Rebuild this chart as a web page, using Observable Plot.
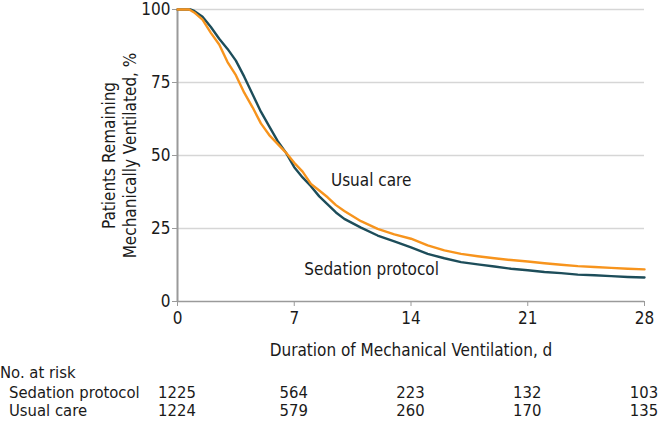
<!DOCTYPE html>
<html>
<head>
<meta charset="utf-8">
<script src="https://cdn.jsdelivr.net/npm/d3@7"></script>
<script src="https://cdn.jsdelivr.net/npm/@observablehq/plot@0.6"></script>
<style>
  body { margin: 0; background: #fff; }
  #wrap { position: relative; width: 660px; }
  .risk { position: relative; height: 60px; width: 660px; font-family: "DejaVu Sans Condensed", "DejaVu Sans", sans-serif; font-size: 16.5px; color: #1a1a1a; }
  .risk span { position: absolute; line-height: 16px; white-space: nowrap; }
</style>
</head>
<body>
<div id="wrap"></div>
<script>
// Kaplan-Meier estimates (day, % remaining ventilated)
const sedationDays = [0, 0.8, 1.0, 1.5, 2.0, 2.5, 3.0, 3.5, 4.0, 4.5, 5.0, 5.5, 6.0, 6.5, 7.0, 7.5, 8.0, 8.5, 9.0, 9.5, 10, 11, 12, 13, 14, 15, 16, 17, 18, 19, 20, 21, 22, 23, 24, 25, 26, 27, 28];
const sedationPct  = [100, 100, 99.5, 97.5, 94, 90, 86.5, 82.5, 77, 71, 65, 60, 55, 51, 46, 42.5, 39.5, 36, 33.3, 30.5, 28.3, 25.3, 22.6, 20.6, 18.5, 16.3, 14.8, 13.5, 12.7, 12.0, 11.2, 10.7, 10.1, 9.7, 9.2, 9.0, 8.7, 8.4, 8.2];
const usualDays = [0, 0.7, 1.0, 1.5, 2.0, 2.5, 3.0, 3.5, 4.0, 4.5, 5.0, 5.5, 6.0, 6.5, 7.0, 7.5, 8.0, 8.5, 9.0, 9.5, 10, 11, 12, 13, 14, 15, 16, 17, 18, 19, 20, 21, 22, 23, 24, 25, 26, 27, 28];
const usualPct  = [100, 100, 99, 96.5, 92, 88, 82, 77.5, 71.5, 66.5, 61, 57, 54, 51, 47.5, 44.5, 40.3, 38, 35.7, 33, 31, 27.5, 24.9, 23, 21.5, 19.2, 17.5, 16.3, 15.5, 14.8, 14.2, 13.7, 13.1, 12.6, 12.1, 11.8, 11.5, 11.2, 11.0];

const groups = ["Sedation protocol", "Usual care"];
const groupColors = ["#1d4d5a", "#f7941d"];
const labelDays = [7.6, 9.2];
const labelPct = [11, 41.4];

const xTicks = [0, 7, 14, 21, 28];
const yTicks = [0, 25, 50, 75, 100];
const gridValues = [25, 50, 75, 100];
const riskSedation = [1225, 564, 223, 132, 103];
const riskUsual = [1224, 579, 260, 170, 135];

const sedation = sedationDays.map((d, i) => ({day: d, pct: sedationPct[i], group: groups[0]}));
const usual = usualDays.map((d, i) => ({day: d, pct: usualPct[i], group: groups[1]}));
const labels = groups.map((g, i) => ({group: g, day: labelDays[i], pct: labelPct[i]}));

const font = '"DejaVu Sans Condensed", "DejaVu Sans", sans-serif';

const plot = Plot.plot({
  width: 660,
  height: 362,
  marginTop: 9,
  marginBottom: 61,
  marginLeft: 177,
  marginRight: 16,
  style: {fontFamily: font, fontSize: "17px", color: "#1a1a1a", background: "#fff"},
  x: {domain: [0, 28], ticks: xTicks, tickSize: 5, tickPadding: 5, label: "Duration of Mechanical Ventilation, d", labelAnchor: "center", labelOffset: 54, labelArrow: "none"},
  y: {domain: [0, 100], ticks: yTicks, tickSize: 5, tickPadding: 2, label: null},
  color: {domain: groups, range: groupColors},
  marks: [
    Plot.ruleY(gridValues, {stroke: "#d6d6d6", strokeWidth: 1.5}),
    Plot.ruleX([0], {stroke: "#9a9a9a", strokeWidth: 2}),
    Plot.ruleY([0], {stroke: "#9a9a9a", strokeWidth: 1.5}),
    Plot.line(sedation, {x: "day", y: "pct", stroke: "group", strokeWidth: 2.4}),
    Plot.line(usual, {x: "day", y: "pct", stroke: "group", strokeWidth: 2.4}),
    Plot.text(labels, {x: "day", y: "pct", text: "group", textAnchor: "start", fill: "#1a1a1a", fontSize: 17}),
    Plot.text(["Patients Remaining\nMechanically Ventilated, %"], {frameAnchor: "left", textAnchor: "middle", lineAnchor: "middle", rotate: -90, dx: -59, text: d => d, fill: "#1a1a1a", fontSize: 17, lineHeight: 1.25})
  ]
});
plot.querySelectorAll('[aria-label="x-axis tick"], [aria-label="y-axis tick"]').forEach(g => g.setAttribute("stroke", "#9a9a9a"));
document.getElementById("wrap").appendChild(plot);

const xs = plot.scale("x");
const risk = document.createElement("div");
risk.className = "risk";
function addSpan(text, left, top, center) {
  const s = document.createElement("span");
  s.textContent = text;
  s.style.left = left + "px";
  s.style.top = top + "px";
  if (center) s.style.transform = "translateX(-50%)";
  risk.appendChild(s);
}
addSpan("No. at risk", 0, 3, false);
addSpan(groups[0], 9, 23, false);
addSpan(groups[1], 9, 41, false);
xTicks.forEach((t, i) => {
  addSpan(String(riskSedation[i]), xs.apply(t), 23, true);
  addSpan(String(riskUsual[i]), xs.apply(t), 41, true);
});
document.getElementById("wrap").appendChild(risk);
</script>
</body>
</html>
